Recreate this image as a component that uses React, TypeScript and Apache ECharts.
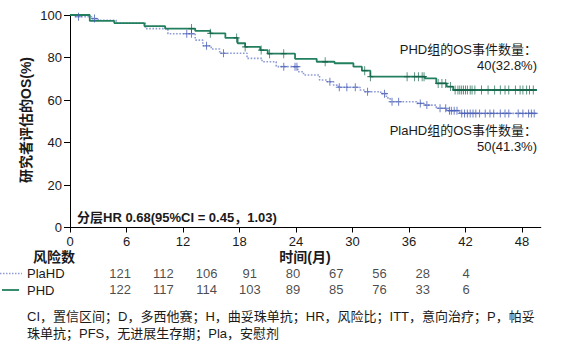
import React, { useEffect, useRef } from 'react';
import * as echarts from 'echarts';

// ---- data ----
const xTicks = [0, 6, 12, 18, 24, 30, 36, 42, 48];

// PHD arm: KM event times (months) and survival (%) after each step
const phdTimes = [0, 2.1, 4.7, 7.9, 10.1, 13.3, 14.9, 16.5, 17.8, 18.6, 20.2, 21.0, 23.9, 26.2, 28.1, 30.1, 31.0, 31.9, 37.7, 38.9, 40.0, 40.7, 49.6];
const phdSurv = [100, 97.2, 96.2, 94.8, 93.6, 92.5, 91.4, 89.2, 86.7, 85.0, 83.5, 81.8, 79.4, 78.0, 77.3, 75.7, 73.8, 71.0, 70.2, 67.8, 66.3, 64.7, 64.7];
const phdCensor = [12.9, 14.9, 17.7, 18.6, 20.3, 21.2, 22.7, 27.1, 31.3, 31.9, 35.8, 36.6, 37.0, 37.4, 37.6, 39.1, 39.5, 39.9, 40.4, 40.9, 41.2, 41.4, 41.6, 41.8, 42.0, 42.2, 42.5, 42.7, 43.0, 43.7, 44.4, 45.1, 45.7, 46.2, 46.6, 47.3, 47.8, 48.1, 48.5, 48.8, 49.2];

// PlaHD arm
const plaTimes = [0, 0.4, 2.3, 3.0, 4.9, 8.0, 10.4, 13.3, 14.1, 15.0, 15.9, 18.8, 20.4, 21.9, 24.2, 24.8, 26.5, 27.3, 28.0, 28.5, 30.8, 31.3, 33.0, 33.6, 34.0, 36.8, 37.6, 38.9, 40.0, 41.4, 49.6];
const plaSurv = [100, 99.2, 98.3, 97.5, 96.2, 93.6, 91.2, 88.2, 85.5, 84.0, 82.0, 79.6, 78.0, 75.7, 73.3, 71.8, 69.4, 68.6, 67.0, 66.0, 64.7, 63.9, 63.0, 61.0, 59.2, 58.4, 57.6, 56.1, 55.0, 53.7, 53.7];
const plaCensor = [0.9, 2.6, 12.4, 12.9, 14.5, 16.3, 22.7, 23.9, 24.1, 27.6, 28.6, 29.4, 30.3, 31.6, 33.4, 34.2, 34.9, 37.2, 37.9, 39.3, 39.9, 40.3, 40.5, 40.8, 41.1, 41.6, 41.9, 42.2, 42.5, 42.8, 43.1, 43.5, 44.1, 44.6, 45.0, 45.7, 46.2, 46.6, 47.6, 48.1, 48.7, 49.0, 49.3];

// numbers at risk
const riskPlaHD = [121, 112, 106, 91, 80, 67, 56, 28, 4];
const riskPHD = [122, 117, 114, 103, 89, 85, 76, 33, 6];

const footnote = [
  'CI，置信区间；D，多西他赛；H，曲妥珠单抗；HR，风险比；ITT，意向治疗；P，帕妥',
  '珠单抗；PFS，无进展生存期；Pla，安慰剂',
];

// ---- styles ----
const FONT = '"Liberation Sans", Arial, "Noto Sans CJK SC", sans-serif';
const TEXT = '#1a1a1a';
const GREEN = '#23805f';
const GREEN_MARK = '#146148';
const BLUE = '#8e9bd6';
const BLUE_MARK = '#4a5fb6';
const PLUS = 'path://M3,0h1v3h3v1h-3v3h-1v-3h-3v-1h3z';

function stepValue(times: number[], surv: number[], t: number) {
  let v = surv[0];
  for (let i = 0; i < times.length; i++) if (times[i] <= t) v = surv[i];
  return v;
}

function txt(text: string, x: number, y: number, opts: any = {}) {
  return {
    type: 'text',
    x,
    y,
    rotation: opts.rotation || 0,
    style: {
      text,
      fill: TEXT,
      fontFamily: FONT,
      fontSize: opts.fontSize || 13,
      fontWeight: opts.bold ? 'bold' : 'normal',
      textAlign: opts.align || 'left',
      verticalAlign: 'middle',
    },
  };
}

export default function App() {
  const ref = useRef<HTMLDivElement>(null);
  useEffect(() => {
    if (!ref.current) return;
    const chart = echarts.init(ref.current, undefined, { renderer: 'svg' });
    const axisLine = { show: true, lineStyle: { color: '#000', width: 1 } };
    const option: any = {
      animation: false,
      textStyle: { fontFamily: FONT },
      grid: [
        { left: 70, top: 15, width: 470.8, height: 212.5 },
        { left: 98.4, top: 265, width: 389.25, height: 33 },
      ],
      xAxis: [
        {
          gridIndex: 0, type: 'value', min: 0, max: 50, interval: 6,
          axisLine,
          axisTick: { show: true, length: 5, lineStyle: { color: '#000' }, customValues: xTicks },
          axisLabel: { customValues: xTicks, color: TEXT, fontSize: 13, margin: 7, fontFamily: FONT },
          splitLine: { show: false },
        },
        { gridIndex: 1, type: 'value', min: -0.5, max: 8.5, show: false },
      ],
      yAxis: [
        {
          gridIndex: 0, type: 'value', min: 0, max: 100, interval: 20,
          axisLine,
          axisTick: { show: true, length: 6, lineStyle: { color: '#000' } },
          axisLabel: { color: TEXT, fontSize: 13, margin: 8, fontFamily: FONT },
          splitLine: { show: false },
        },
        { gridIndex: 1, type: 'category', data: ['PHD', 'PlaHD'], show: false },
      ],
      series: [
        {
          type: 'line', step: 'end', symbol: 'none', z: 2,
          data: plaTimes.map((t, i) => [t, plaSurv[i]]),
          lineStyle: { color: BLUE, width: 1.6, type: 'dotted' },
        },
        {
          type: 'line', step: 'end', symbol: 'none', z: 3,
          data: phdTimes.map((t, i) => [t, phdSurv[i]]),
          lineStyle: { color: GREEN, width: 1.8 },
        },
        {
          type: 'scatter', symbol: PLUS, symbolSize: [7, 8], z: 4,
          data: plaCensor.map((t) => [t, stepValue(plaTimes, plaSurv, t)]),
          itemStyle: { color: BLUE_MARK },
        },
        {
          type: 'scatter', symbol: PLUS, symbolSize: [6, 9], z: 5,
          data: phdCensor.map((t) => [t, stepValue(phdTimes, phdSurv, t)]),
          itemStyle: { color: GREEN_MARK },
        },
        {
          type: 'scatter', xAxisIndex: 1, yAxisIndex: 1, symbolSize: 1,
          itemStyle: { color: 'transparent' },
          data: riskPlaHD.map((v, i) => [i, 'PlaHD', v]),
          label: { show: true, position: 'inside', formatter: (p: any) => String(p.value[2]), color: TEXT, fontSize: 13, fontFamily: FONT },
        },
        {
          type: 'scatter', xAxisIndex: 1, yAxisIndex: 1, symbolSize: 1,
          itemStyle: { color: 'transparent' },
          data: riskPHD.map((v, i) => [i, 'PHD', v]),
          label: { show: true, position: 'inside', formatter: (p: any) => String(p.value[2]), color: TEXT, fontSize: 13, fontFamily: FONT },
        },
      ],
      graphic: [
        txt('研究者评估的OS(%)', 25.5, 120, { rotation: Math.PI / 2, align: 'center', bold: true, fontSize: 14 }),
        txt('时间(月)', 305, 256.5, { align: 'center', bold: true, fontSize: 14 }),
        txt('风险数', 33, 257, { bold: true, fontSize: 14 }),
        txt('分层HR 0.68(95%CI = 0.45，1.03)', 77, 217, { bold: true, fontSize: 13 }),
        txt('PHD组的OS事件数量：', 537, 49, { align: 'right' }),
        txt('40(32.8%)', 537, 65, { align: 'right' }),
        txt('PlaHD组的OS事件数量：', 537, 130.5, { align: 'right' }),
        txt('50(41.3%)', 537, 146.5, { align: 'right' }),
        {
          type: 'line', shape: { x1: 0, y1: 273.5, x2: 22, y2: 273.5 },
          style: { stroke: BLUE, lineWidth: 1.5, lineDash: [1.5, 1.5] },
        },
        {
          type: 'line', shape: { x1: 2, y1: 290, x2: 19, y2: 290 },
          style: { stroke: GREEN, lineWidth: 1.8 },
        },
        txt('PlaHD', 27, 273.5),
        txt('PHD', 27, 290),
        txt(footnote[0], 27, 316.5),
        txt(footnote[1], 27, 333),
      ],
    };
    chart.setOption(option);
    return () => chart.dispose();
  }, []);
  return (
    <div
      ref={ref}
      style={{ position: 'fixed', left: 0, top: 0, width: 567, height: 357, background: '#fff' }}
    />
  );
}
